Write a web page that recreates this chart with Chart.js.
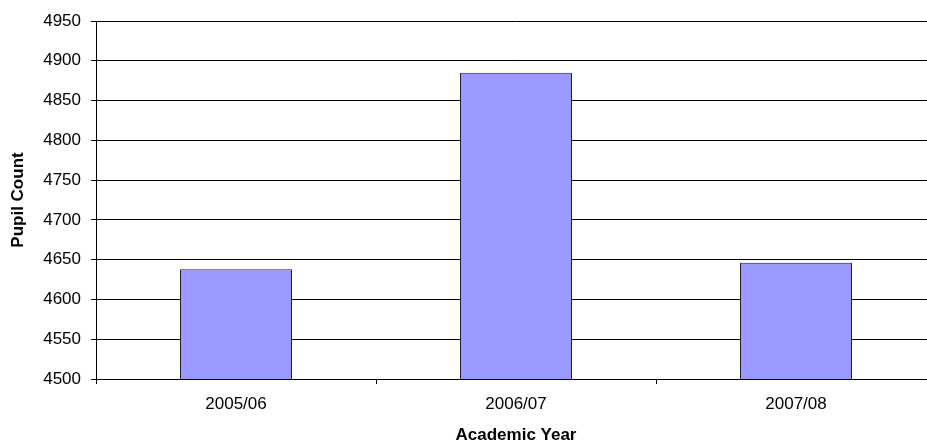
<!DOCTYPE html>
<html>
<head>
<meta charset="utf-8">
<script src="https://cdn.jsdelivr.net/npm/chart.js@4/dist/chart.umd.min.js"></script>
<style>
  html, body { margin: 0; padding: 0; background: #fff; overflow: hidden; }
  #wrap { width: 936px; height: 444px; }
</style>
</head>
<body>
<div id="wrap"><canvas id="pupils"></canvas></div>
<script>
// chart data
var years = ["2005/06", "2006/07", "2007/08"];
var pupilCounts = [4638, 4885, 4646];
var yMin = 4500, yMax = 4950, yStep = 50;

var font = "'Liberation Sans', Arial, sans-serif";

var ctx = document.getElementById('pupils').getContext('2d');
var pupilChart = new Chart(ctx, {
    type: 'bar',
    data: {
        labels: years,
        datasets: [{
            label: "Pupil Count",
            data: pupilCounts,
            backgroundColor: "#9999FF",
            borderColor: "#222",
            borderWidth: 1,
            categoryPercentage: 1,
            barPercentage: 0.4
        }]
    },
    options: {
        responsive: true,
        maintainAspectRatio: false,
        animation: false,
        layout: { padding: { top: 21, right: 0, left: 0, bottom: 0 } },
        plugins: {
            legend: { display: false },
            tooltip: { enabled: false }
        },
        scales: {
            x: {
                grid: { display: true, drawOnChartArea: false, drawTicks: true, tickLength: 5, color: "#000", offset: true },
                border: { color: "#000" },
                ticks: { color: "#000", font: { family: font, size: 17 }, padding: 10 },
                title: { display: true, text: "Academic Year", color: "#000", font: { family: font, size: 17, weight: "bold", lineHeight: 1 }, padding: { top: 0, bottom: 0 } },
                afterFit: function (scale) { scale.height = 65; }
            },
            y: {
                min: yMin,
                max: yMax,
                grid: { color: "#000", tickLength: 5 },
                border: { color: "#000" },
                ticks: {
                    stepSize: yStep, color: "#000", font: { family: font, size: 17 }, padding: 10,
                    callback: function (v) { return String(v); }
                },
                title: { display: true, text: "Pupil Count", color: "#000", font: { family: font, size: 17, weight: "bold", lineHeight: 1 }, padding: { top: 10, bottom: 0 } },
                afterFit: function (scale) { scale.width = 96; }
            }
        }
    }
});
</script>
</body>
</html>
